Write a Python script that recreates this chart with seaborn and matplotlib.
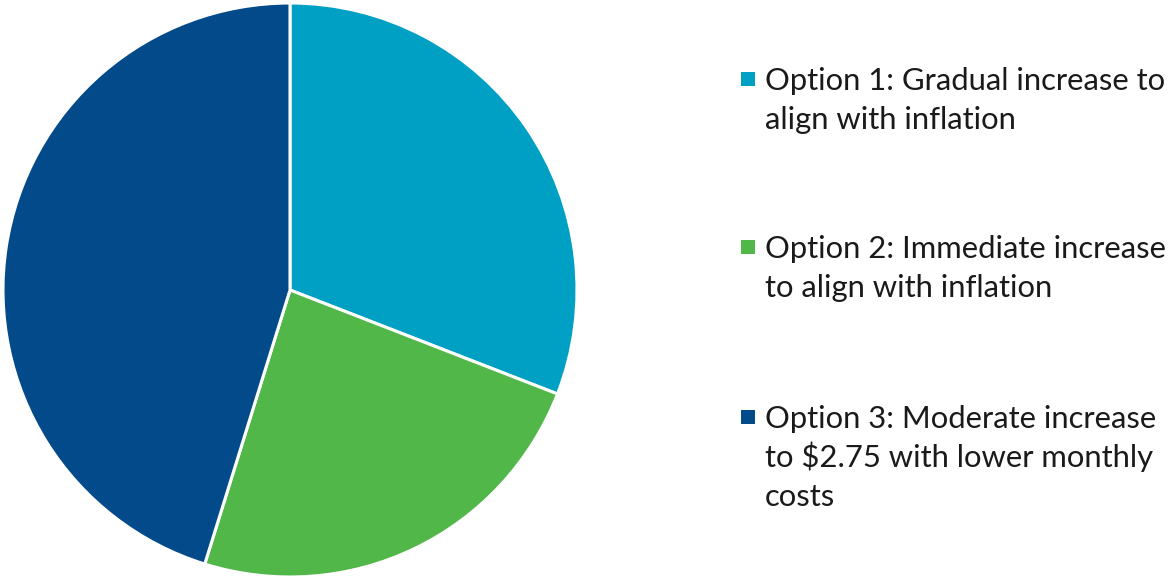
import matplotlib
matplotlib.use("Agg")
import matplotlib.pyplot as plt
import seaborn as sns
from matplotlib.patches import Rectangle

# shares (percent)
options = ["Option 1", "Option 2", "Option 3"]
shares = [30.9, 23.9, 45.2]
labels = [
    ["Option 1: Gradual increase to", "align with inflation"],
    ["Option 2: Immediate increase", "to align with inflation"],
    ["Option 3: Moderate increase", "to $2.75 with lower monthly", "costs"],
]
colors = ["#00A0C4", "#50B748", "#034A8A"]

sns.set_theme(style="white")
plt.rcParams["font.family"] = ["Lato", "DejaVu Sans"]

W, H = 1173, 576
fig = plt.figure(figsize=(W / 100, H / 100), dpi=100)

# pie axes: centre (290, 290) px, radius 287 px
cx, cy, r = 290, 290, 287
ax = fig.add_axes([(cx - r) / W, (H - cy - r) / H, 2 * r / W, 2 * r / H])
pal = sns.color_palette(colors)
ax.pie(shares, colors=pal, startangle=90, counterclock=False,
       wedgeprops=dict(edgecolor="white", linewidth=2.2))
ax.set_xlim(-1, 1)
ax.set_ylim(-1, 1)
ax.set_aspect("equal", adjustable="box")
ax.axis("off")

# legend drawn by hand so the marker sits on the first line
first_baselines = [90, 258, 428]
line_gap = 39
for lines, col, base in zip(labels, pal, first_baselines):
    sq = 14
    fig.patches.append(Rectangle((741 / W, (H - base + 4) / H), sq / W, sq / H,
                                 transform=fig.transFigure, facecolor=col,
                                 edgecolor="none"))
    for i, line in enumerate(lines):
        fig.text(765 / W, (H - base - i * line_gap) / H, line,
                 fontsize=22.3, color="#1a1a1a", va="baseline", ha="left")

fig.savefig("out.png", dpi=100, facecolor="white")
